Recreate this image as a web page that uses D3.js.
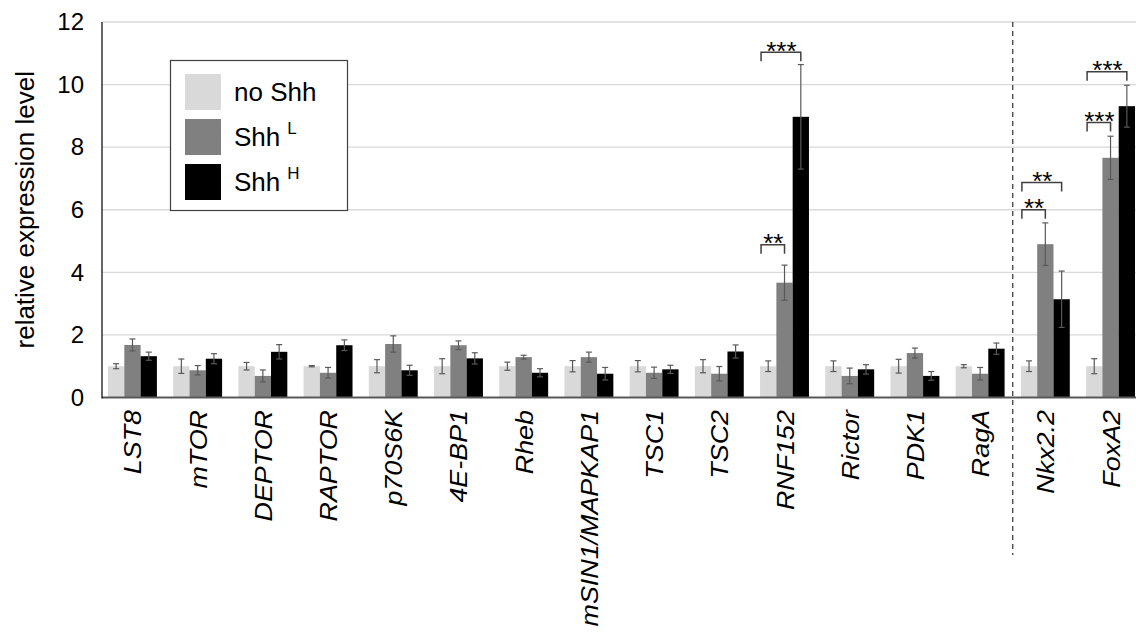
<!DOCTYPE html>
<html>
<head>
<meta charset="utf-8">
<script src="https://cdn.jsdelivr.net/npm/d3@7"></script>
<style>
  body { margin: 0; background: #fff; }
  svg { display: block; font-family: "Liberation Sans", Arial, sans-serif; }
</style>
</head>
<body>
<div id="chart"></div>
<script>
const genes = ["LST8", "mTOR", "DEPTOR", "RAPTOR", "p70S6K", "4E-BP1", "Rheb", "mSIN1/MAPKAP1",
  "TSC1", "TSC2", "RNF152", "Rictor", "PDK1", "RagA", "Nkx2.2", "FoxA2"];
const seriesNames = ["no Shh", "Shh", "Shh"];
const seriesSup = ["", "L", "H"];
const noShh = [1, 1, 1, 1, 1, 1, 1, 1, 1, 1, 1, 1, 1, 1, 1, 1];
const noShhErr = [0.08, 0.23, 0.12, 0.02, 0.21, 0.24, 0.13, 0.18, 0.18, 0.21, 0.17, 0.17, 0.22, 0.05, 0.17, 0.24];
const shhL = [1.68, 0.87, 0.69, 0.79, 1.71, 1.67, 1.29, 1.29, 0.79, 0.76, 3.67, 0.69, 1.42, 0.76, 4.9, 7.66];
const shhLErr = [0.19, 0.15, 0.19, 0.17, 0.26, 0.14, 0.06, 0.16, 0.18, 0.23, 0.56, 0.25, 0.16, 0.2, 0.68, 0.69];
const shhH = [1.32, 1.24, 1.46, 1.67, 0.87, 1.25, 0.79, 0.76, 0.9, 1.47, 8.97, 0.9, 0.69, 1.56, 3.14, 9.31];
const shhHErr = [0.13, 0.16, 0.23, 0.17, 0.16, 0.18, 0.13, 0.2, 0.13, 0.21, 1.67, 0.15, 0.14, 0.18, 0.9, 0.67];
const yTicks = [0, 2, 4, 6, 8, 10, 12];
// significance brackets: gene, target series, height, stars
const brackets = [
  { gene: "RNF152", to: 1, level: 4.88, label: "**" },
  { gene: "RNF152", to: 2, level: 11.03, label: "***" },
  { gene: "Nkx2.2", to: 1, level: 6.0, label: "**" },
  { gene: "Nkx2.2", to: 2, level: 6.87, label: "**" },
  { gene: "FoxA2", to: 1, level: 8.79, label: "***" },
  { gene: "FoxA2", to: 2, level: 10.41, label: "***" }
];

const width = 1136, height = 632;
const colors = ["#d9d9d9", "#808080", "#000000"];
const series = [noShh, shhL, shhH];
const errs = [noShhErr, shhLErr, shhHErr];

const svg = d3.select("#chart").append("svg")
  .attr("width", width)
  .attr("height", height);

const x = d3.scaleBand().domain(genes).range([102, 1141]).paddingInner(0.25).paddingOuter(0.092);
const xs = d3.scaleBand().domain([0, 1, 2]).range([0, x.bandwidth()]);
const y = d3.scaleLinear().domain([0, 12]).range([397.5, 22]);

// gridlines
svg.append("g")
  .selectAll("line")
  .data(yTicks.filter(d => d > 0))
  .enter()
  .append("line")
  .attr("x1", 102)
  .attr("x2", width)
  .attr("y1", d => y(d))
  .attr("y2", d => y(d))
  .attr("stroke", "#d9d9d9")
  .attr("stroke-width", 1.3);

// bars
const groups = svg.append("g")
  .selectAll("g")
  .data(genes)
  .enter()
  .append("g")
  .attr("transform", d => `translate(${x(d)},0)`);

groups.selectAll("rect")
  .data((d, i) => series.map((s, k) => ({ k, v: s[i], e: errs[k][i] })))
  .enter()
  .append("rect")
  .attr("x", d => xs(d.k))
  .attr("width", xs.bandwidth())
  .attr("y", d => y(d.v))
  .attr("height", d => y(0) - y(d.v))
  .attr("fill", d => colors[d.k]);

// error bars
const eb = groups.selectAll("g.err")
  .data((d, i) => series.map((s, k) => ({ k, v: s[i], e: errs[k][i] })))
  .enter()
  .append("g")
  .attr("class", "err")
  .attr("stroke", "#595959")
  .attr("stroke-width", 1.2);
eb.append("line")
  .attr("x1", d => xs(d.k) + xs.bandwidth() / 2)
  .attr("x2", d => xs(d.k) + xs.bandwidth() / 2)
  .attr("y1", d => y(d.v - d.e))
  .attr("y2", d => y(d.v + d.e));
eb.selectAll("line.cap")
  .data(d => [d.v - d.e, d.v + d.e].map(v => ({ k: d.k, v })))
  .enter()
  .append("line")
  .attr("class", "cap")
  .attr("x1", d => xs(d.k) + xs.bandwidth() / 2 - 3)
  .attr("x2", d => xs(d.k) + xs.bandwidth() / 2 + 3)
  .attr("y1", d => y(d.v))
  .attr("y2", d => y(d.v));

// axes
svg.append("line")
  .attr("x1", 102).attr("x2", width)
  .attr("y1", y(0)).attr("y2", y(0))
  .attr("stroke", "#595959").attr("stroke-width", 2);
svg.append("line")
  .attr("x1", 102).attr("x2", 102)
  .attr("y1", y(12)).attr("y2", y(0) + 1)
  .attr("stroke", "#000").attr("stroke-width", 1.2);

const yAxis = svg.append("g")
  .attr("transform", "translate(102,0)")
  .call(d3.axisLeft(y).tickValues(yTicks).tickSize(0).tickPadding(18));
yAxis.select(".domain").remove();
yAxis.selectAll("text")
  .attr("font-size", 24)
  .attr("font-family", "Liberation Sans, Arial, sans-serif")
  .attr("fill", "#000");

svg.append("text")
  .attr("transform", `translate(34,${(y(0) + y(12)) / 2}) rotate(-90)`)
  .attr("text-anchor", "middle")
  .attr("font-size", 26)
  .text("relative expression level");

// x labels
svg.append("g")
  .selectAll("text")
  .data(genes)
  .enter()
  .append("text")
  .attr("transform", d => `translate(${x(d) + x.bandwidth() / 2 + 9},410) rotate(-90) scale(1.12,1)`)
  .attr("text-anchor", "end")
  .attr("font-size", 24)
  .attr("font-style", "italic")
  .text(d => d);

// separator
const sepX = (x("RagA") + x.bandwidth() + x("Nkx2.2")) / 2;
svg.append("line")
  .attr("x1", sepX).attr("x2", sepX)
  .attr("y1", y(12)).attr("y2", 555)
  .attr("stroke", "#404040")
  .attr("stroke-width", 1.3)
  .attr("stroke-dasharray", "5,4");

// brackets
const br = svg.append("g")
  .selectAll("g")
  .data(brackets)
  .enter()
  .append("g");
br.append("path")
  .attr("d", d => {
    const x0 = x(d.gene) + 1;
    const x1 = x(d.gene) + xs(d.to) + xs.bandwidth() / 2;
    const yy = y(d.level);
    return `M${x0},${yy + 9}V${yy}H${x1}V${yy + 9}`;
  })
  .attr("fill", "none")
  .attr("stroke", "#404040")
  .attr("stroke-width", 1.5);
br.append("text")
  .attr("x", d => x(d.gene) + (xs(d.to) + xs.bandwidth() / 2) / 2 + 1)
  .attr("y", d => y(d.level) + 7.5)
  .attr("text-anchor", "middle")
  .attr("font-size", 26)
  .text(d => d.label);

// legend
const lg = svg.append("g");
lg.append("rect")
  .attr("x", 170.5).attr("y", 60.5)
  .attr("width", 177).attr("height", 150)
  .attr("fill", "#fff")
  .attr("stroke", "#404040")
  .attr("stroke-width", 1.2);
const items = lg.selectAll("g")
  .data(seriesNames)
  .enter()
  .append("g")
  .attr("transform", (d, i) => `translate(185,${74 + i * 45})`);
items.append("rect")
  .attr("width", 36).attr("height", 36)
  .attr("fill", (d, i) => colors[i]);
const lt = items.append("text")
  .attr("x", 49).attr("y", 27)
  .attr("font-size", 26)
  .text(d => d);
lt.append("tspan")
  .attr("dx", 7)
  .attr("dy", -12)
  .attr("font-size", 17)
  .text((d, i) => seriesSup[i]);
</script>
</body>
</html>
